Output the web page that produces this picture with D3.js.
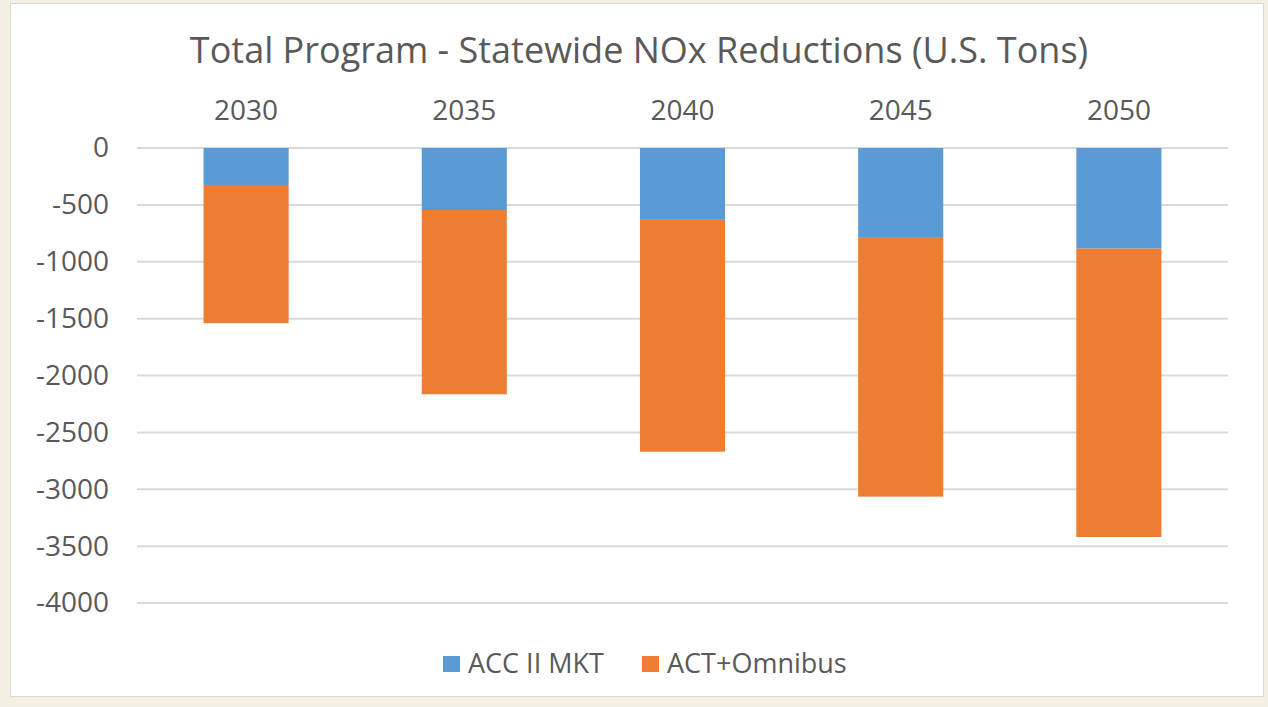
<!DOCTYPE html>
<html>
<head>
<meta charset="utf-8">
<script src="https://cdn.jsdelivr.net/npm/d3@7"></script>
<style>
  body { margin: 0; background: #f3efe2; }
  svg text { font-family: 'Open Sans', sans-serif; fill: #595959; }
</style>
</head>
<body>
<script>
var w = 1268;
var h = 707;

// data (tons, negative = reduction)
var years = ['2030', '2035', '2040', '2045', '2050'];
var accMkt = [-325, -545, -625, -790, -885];
var actOmnibus = [-1215, -1620, -2045, -2275, -2535];
var yTicks = [0, -500, -1000, -1500, -2000, -2500, -3000, -3500, -4000];
var seriesNames = ['ACC II MKT', 'ACT+Omnibus'];
var colors = ['#5b9bd5', '#ed7d31'];

var rows = years.map(function(y, i) {
   return { year: y, acc: accMkt[i], act: actOmnibus[i] };
});

var svg = d3.select('body')
   .append('svg')
   .attr('width', w)
   .attr('height', h);

// white chart panel
svg.append('rect')
   .attr('x', 10.5).attr('y', 3.5)
   .attr('width', 1253).attr('height', 693)
   .attr('fill', '#fff')
   .attr('stroke', '#d9d9d9');

var x = d3.scaleBand()
   .domain(years)
   .range([137, 1228])
   .paddingInner(0.61)
   .paddingOuter(0.305);

var y = d3.scaleLinear()
   .domain([0, -4000])
   .range([148, 603]);

// gridlines
svg.selectAll('line.grid')
   .data(yTicks)
   .enter()
   .append('line')
   .attr('class', 'grid')
   .attr('x1', 137).attr('x2', 1228)
   .attr('y1', function(d) { return y(d); })
   .attr('y2', function(d) { return y(d); })
   .attr('stroke', '#d9d9d9')
   .attr('stroke-width', 2);

// y labels
var yAxis = svg.append('g')
   .attr('transform', 'translate(109,0)')
   .call(d3.axisLeft(y).tickValues(yTicks).tickSize(0).tickPadding(0)
      .tickFormat(function(d) { return String(d); }));
yAxis.select('.domain').remove();
yAxis.selectAll('text')
   .style('font-size', '28px')
   .style('font-family', "'Open Sans', sans-serif")
   .attr('fill', '#5f5f5f');

// x labels on top
var xAxis = svg.append('g')
   .attr('transform', 'translate(0,120)')
   .call(d3.axisTop(x).tickSize(0).tickPadding(0));
xAxis.select('.domain').remove();
xAxis.selectAll('text')
   .style('font-size', '28px')
   .style('font-family', "'Open Sans', sans-serif")
   .attr('fill', '#5f5f5f')
   .attr('dy', 0);

// stacked bars
var stack = d3.stack()
   .keys(['acc', 'act'])
   .offset(d3.stackOffsetDiverging);

svg.selectAll('g.series')
   .data(stack(rows))
   .enter()
   .append('g')
   .attr('class', 'series')
   .attr('fill', function(d, i) { return colors[i]; })
   .selectAll('rect')
   .data(function(d) { return d; })
   .enter()
   .append('rect')
   .attr('x', function(d) { return x(d.data.year); })
   .attr('width', x.bandwidth())
   .attr('y', function(d) { return y(Math.max(d[0], d[1])); })
   .attr('height', function(d) { return Math.abs(y(d[1]) - y(d[0])); });

// title
svg.append('text')
   .attr('x', 639)
   .attr('y', 63)
   .attr('text-anchor', 'middle')
   .style('font-size', '36px')
   .text('Total Program - Statewide NOx Reductions (U.S. Tons)');

// legend
var legend = svg.selectAll('g.legend')
   .data(seriesNames)
   .enter()
   .append('g')
   .attr('class', 'legend')
   .attr('transform', function(d, i) {
      return 'translate(' + [443, 642][i] + ',664)';
   });
legend.append('rect')
   .attr('x', 0).attr('y', -8)
   .attr('width', 17).attr('height', 16)
   .attr('fill', function(d, i) { return colors[i]; });
legend.append('text')
   .attr('x', 25)
   .attr('y', 9)
   .style('font-size', '27px')
   .text(function(d) { return d; });
</script>
</body>
</html>
